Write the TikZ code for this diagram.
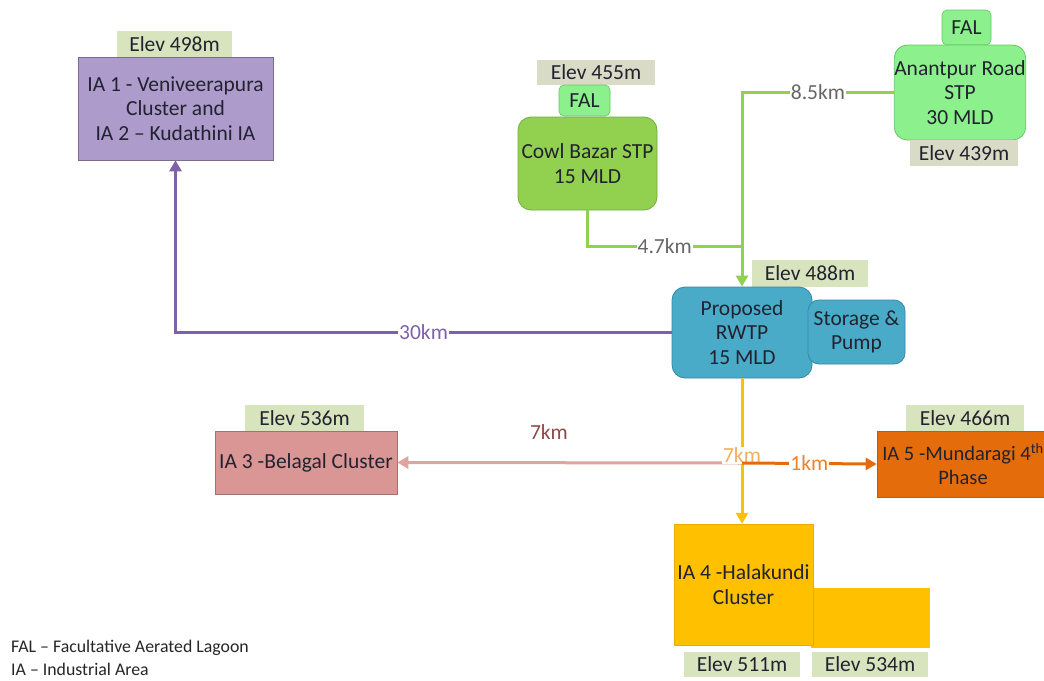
\documentclass[tikz,border=0pt]{standalone}
\usepackage{fontspec}
\setmainfont{Carlito}
\usetikzlibrary{arrows.meta}

\definecolor{txt}{HTML}{222230}
\definecolor{elevA}{HTML}{D7E4BD}
\definecolor{elevB}{HTML}{D9DBC6}
\definecolor{iaone}{HTML}{AD9BCB}
\definecolor{iaoneline}{HTML}{7E62A9}
\definecolor{cowl}{HTML}{92D050}
\definecolor{cowlborder}{HTML}{6FAF3C}
\definecolor{lightgreen}{HTML}{8CF08C}
\definecolor{lightgreenborder}{HTML}{62C862}
\definecolor{rwtp}{HTML}{4AABC8}
\definecolor{rwtpborder}{HTML}{3288A6}
\definecolor{yellowbox}{HTML}{FFC000}
\definecolor{pinkbox}{HTML}{DA9694}
\definecolor{pinkline}{HTML}{DFA49F}
\definecolor{orangebox}{HTML}{E46C0A}
\definecolor{graytext}{HTML}{666666}
\definecolor{lightorange}{HTML}{F2AE62}
\definecolor{redbrown}{HTML}{8E4A48}

\tikzset{
  every node/.style={font=\fontsize{21.5}{24.5}\selectfont, text=txt, align=center, inner sep=0pt},
  elev/.style={fill=elevA},
  elevgray/.style={fill=elevB},
  rbox/.style={rounded corners=13pt, line width=0.8pt},
  conn/.style={line width=3pt},
  tip/.style={-{Triangle[length=11pt,width=12pt]}},
  dist/.style={fill=white, inner sep=1pt},
  legend/.style={font=\fontsize{17.8}{20}\selectfont, anchor=west, text=black!85}
}

\begin{document}
\begin{tikzpicture}[x=1pt,y=-1pt]
\clip (0,0) rectangle (1044,680);
\fill[white] (0,0) rectangle (1044,680);

% ---- industrial area IA 1 / IA 2
\node[elev, minimum width=115pt, minimum height=26pt] (e498) at (174.5,44) {Elev 498m};
\node[fill=iaone, draw=iaone!70!black, line width=0.6pt, minimum width=195pt, minimum height=103pt] (ia1) at (175.5,108.5)
  {IA 1 - Veniveerapura\\Cluster and\\IA 2 – Kudathini IA};

% ---- Cowl Bazar STP
\node[elevgray, minimum width=118pt, minimum height=25pt] (e455) at (596,72.5) {Elev 455m};
\node[fill=lightgreen, draw=lightgreenborder, rounded corners=5pt, line width=0.6pt, minimum width=51pt, minimum height=31pt] (fal1) at (584.5,100.5) {FAL};
\node[rbox, fill=cowl, draw=cowlborder, minimum width=139pt, minimum height=93pt] (cowl) at (587.5,163.5) {Cowl Bazar STP\\15 MLD};

% ---- Anantpur Road STP
\node[fill=lightgreen, draw=lightgreenborder, rounded corners=5pt, line width=0.6pt, minimum width=49pt, minimum height=35pt] (fal2) at (966.5,27.5) {FAL};
\node[rbox, fill=lightgreen, draw=lightgreenborder, minimum width=120pt, minimum height=95pt] (anant) at (960,92.5) {Anantpur Road\\STP\\30 MLD};
\node[elevgray, minimum width=108pt, minimum height=26pt] (e439) at (964,153) {Elev 439m};

% ---- proposed RWTP with storage
\node[elev, minimum width=116pt, minimum height=27pt] (e488) at (810,273.5) {Elev 488m};
\node[rbox, fill=rwtp, draw=rwtpborder, minimum width=140pt, minimum height=91pt] (rwtp) at (742,332.5) {Proposed\\RWTP\\15 MLD};
\node[rbox, rounded corners=11pt, fill=rwtp, draw=rwtpborder, minimum width=97pt, minimum height=64pt] (store) at (856.5,332) {Storage \&\\Pump};

% ---- IA 3
\node[elev, minimum width=119pt, minimum height=26pt] (e536) at (304.5,418) {Elev 536m};
\node[fill=pinkbox, draw=pinkbox!75!black, line width=0.6pt, minimum width=182pt, minimum height=63pt] (ia3) at (306,462.5) {IA 3 -Belagal Cluster};

% ---- IA 5 (box runs past the right edge)
\node[elev, minimum width=118pt, minimum height=26pt] (e466) at (965,418) {Elev 466m};
\node[fill=orangebox, draw=orangebox!85!black, line width=0.6pt, minimum width=172pt, minimum height=66pt,
      font=\fontsize{20.5}{24}\selectfont] (ia5) at (963,464) {IA 5 -Mundaragi 4\textsuperscript{th}\\Phase};

% ---- IA 4
\node[fill=yellowbox, minimum width=119pt, minimum height=60pt] (ia4b) at (870.5,618) {};
\node[fill=yellowbox, draw=yellowbox!90!black, line width=0.5pt, minimum width=139pt, minimum height=121pt] (ia4) at (743.5,584.5) {IA 4 -Halakundi\\Cluster};
\node[elev, minimum width=116pt, minimum height=25pt] (e511) at (742,664.5) {Elev 511m};
\node[elev, minimum width=116pt, minimum height=25pt] (e534) at (870,664.5) {Elev 534m};

% ---- junctions
\coordinate (jin) at (742,246);
\coordinate (jout) at (742,463);

% ---- connectors
\draw[conn, cowl] (cowl.south) |- (jin)
  node[dist, pos=0.75, text=graytext] {4.7km};
\draw[conn, cowl, tip] (anant.west) -| (rwtp.north)
  node[dist, pos=0.25, text=graytext] {8.5km};
\draw[conn, iaoneline, tip] (rwtp.west) -| (ia1.south)
  node[dist, pos=0.25, text=iaoneline] {30km};
\draw[conn, pinkline, tip] (jout) -- (ia3.east)
  node[pos=0.56, yshift=31pt, text=redbrown] {7km};
\draw[conn, yellowbox, tip] (rwtp.south) -- (rwtp.south |- ia4.north)
  node[dist, pos=0.53, text=lightorange] {7km};
\draw[conn, orangebox, tip] (jout) -- (ia5.west)
  node[dist, pos=0.5, text=orangebox!85!white] {1km};

% ---- legend
\node[legend] (leg1) at (11,648) {FAL – Facultative Aerated Lagoon};
\node[legend] (leg2) at (11,669) {IA – Industrial Area};
\end{tikzpicture}
\end{document}
